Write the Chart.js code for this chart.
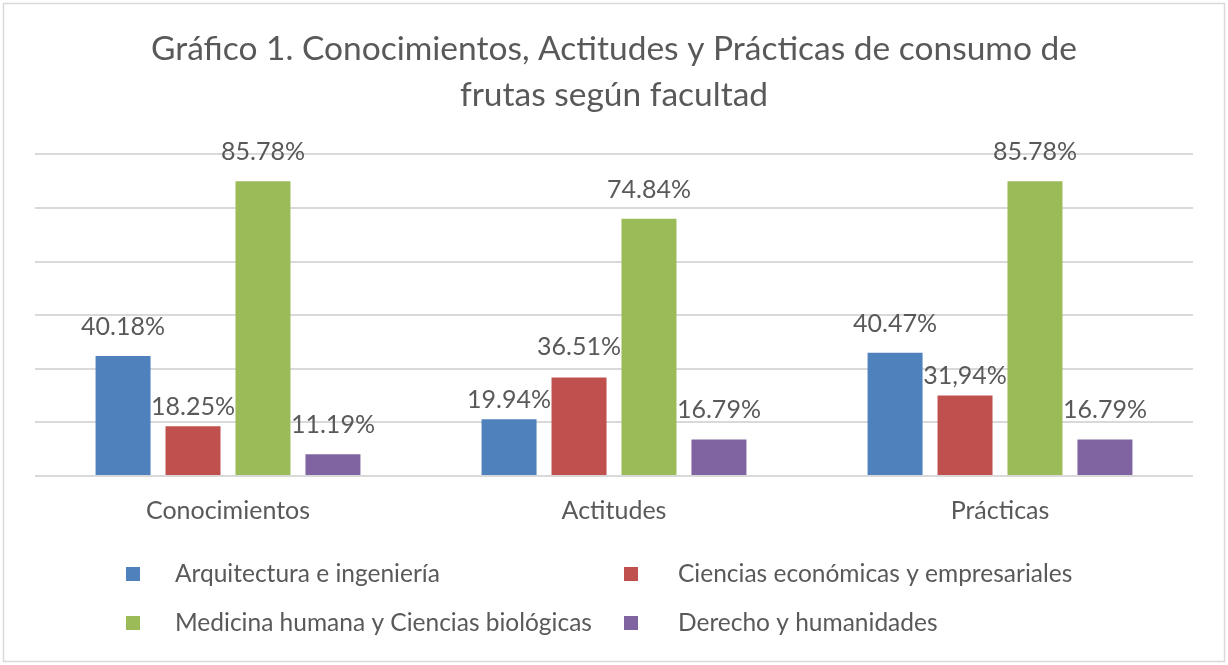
<!DOCTYPE html>
<html>
<head>
<meta charset="utf-8">
<script src="https://cdn.jsdelivr.net/npm/chart.js@4/dist/chart.umd.min.js"></script>
<style>
html,body{margin:0;padding:0;background:#fff;}
#wrap{width:1228px;height:665px;position:relative;}
</style>
</head>
<body>
<div id="wrap"><canvas id="c" width="1228" height="665"></canvas></div>
<script>
const categories = ['Conocimientos', 'Actitudes', 'Prácticas'];
const seriesNames = ['Arquitectura e ingeniería', 'Ciencias económicas y empresariales', 'Medicina humana y Ciencias biológicas', 'Derecho y humanidades'];
const arquitecturaValues = [22.4, 10.6, 23.0];
const cienciasEconValues = [9.3, 18.4, 15.0];
const medicinaValues = [55.0, 48.0, 55.0];
const derechoValues = [4.05, 6.8, 6.8];
const arquitecturaLabels = ['40.18%', '19.94%', '40.47%'];
const cienciasEconLabels = ['18.25%', '36.51%', '31,94%'];
const medicinaLabels = ['85.78%', '74.84%', '85.78%'];
const derechoLabels = ['11.19%', '16.79%', '16.79%'];
const titleLines = ['Gráfico 1. Conocimientos, Actitudes y Prácticas de consumo de', 'frutas según facultad'];

const colors = ['#4f81bd', '#c0504d', '#9bbb59', '#8064a2'];
const textColor = '#595959';
const FONT = 'Lato, "Open Sans", sans-serif';

const valueSets = [arquitecturaValues, cienciasEconValues, medicinaValues, derechoValues];
const labelSets = [arquitecturaLabels, cienciasEconLabels, medicinaLabels, derechoLabels];

// vertical gap (px) between label baseline and bar top; some labels sit closer
const labelGaps = [[21, 11, 21], [11, 22, 12], [21, 21, 21], [21, 22, 22]];

const borderPlugin = {
  id: 'frame',
  beforeDraw(chart) {
    const ctx = chart.ctx;
    ctx.save();
    ctx.fillStyle = '#fff';
    ctx.fillRect(0, 0, chart.width, chart.height);
    ctx.strokeStyle = '#d9d9d9';
    ctx.lineWidth = 1.5;
    ctx.strokeRect(3.5, 3.5, chart.width - 7, chart.height - 7);
    ctx.restore();
  }
};

const labelPlugin = {
  id: 'barLabels',
  afterDatasetsDraw(chart) {
    const ctx = chart.ctx;
    ctx.save();
    ctx.font = '25px ' + FONT;
    ctx.fillStyle = textColor;
    ctx.textAlign = 'center';
    ctx.textBaseline = 'alphabetic';
    chart.data.datasets.forEach((ds, i) => {
      const meta = chart.getDatasetMeta(i);
      meta.data.forEach((el, j) => {
        ctx.fillText(labelSets[i][j], el.x, el.y - labelGaps[i][j]);
      });
    });
    ctx.restore();
  }
};

const legendPlugin = {
  id: 'gridLegend',
  afterDraw(chart) {
    const ctx = chart.ctx;
    const cols = [126, 624];
    const textOffsets = [49, 54];
    const rows = [574, 623];
    ctx.save();
    ctx.font = '24.5px ' + FONT;
    ctx.textBaseline = 'middle';
    ctx.textAlign = 'left';
    chart.data.datasets.forEach((ds, i) => {
      const c = i % 2;
      const x = cols[c];
      const y = rows[Math.floor(i / 2)];
      ctx.fillStyle = ds.backgroundColor;
      ctx.fillRect(x, y - 7, 14, 14);
      ctx.fillStyle = textColor;
      ctx.fillText(ds.label, x + textOffsets[c], y);
    });
    ctx.restore();
  }
};

new Chart(document.getElementById('c'), {
  type: 'bar',
  data: {
    labels: categories,
    datasets: seriesNames.map((name, i) => ({
      label: name,
      data: valueSets[i],
      backgroundColor: colors[i],
      borderWidth: 0
    }))
  },
  options: {
    responsive: false,
    animation: false,
    events: [],
    categoryPercentage: 0.725,
    barPercentage: 0.786,
    layout: { padding: { left: 35, right: 35, top: 0, bottom: 127 } },
    plugins: {
      legend: { display: false },
      tooltip: { enabled: false },
      title: {
        display: true,
        text: titleLines,
        color: textColor,
        font: { family: FONT, size: 33.5, weight: 'normal', lineHeight: 1.35 },
        padding: { top: 27, bottom: 37 }
      }
    },
    scales: {
      x: {
        grid: { display: false },
        border: { display: false },
        ticks: { color: textColor, font: { family: FONT, size: 25 }, padding: 12 }
      },
      y: {
        min: 0, max: 60,
        ticks: { display: false, stepSize: 10 },
        border: { display: false },
        grid: { color: '#d9d9d9', lineWidth: 2, drawTicks: false }
      }
    }
  },
  plugins: [borderPlugin, labelPlugin, legendPlugin]
});
</script>
</body>
</html>
